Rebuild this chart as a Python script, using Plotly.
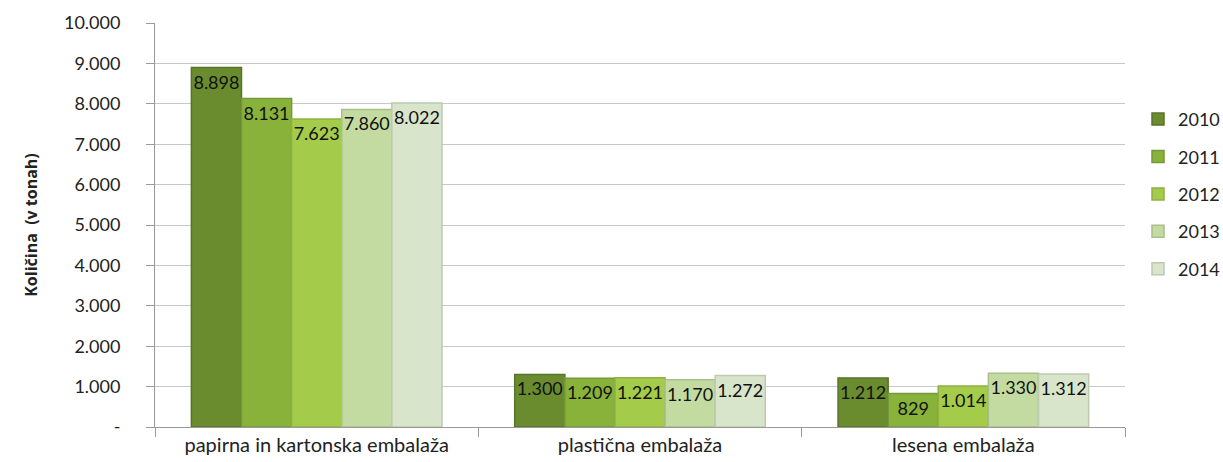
import plotly.graph_objects as go

categories = ["papirna in kartonska embalaža", "plastična embalaža", "lesena embalaža"]
years = ["2010", "2011", "2012", "2013", "2014"]
values = {
    "2010": [8898, 1300, 1212],
    "2011": [8131, 1209, 829],
    "2012": [7623, 1221, 1014],
    "2013": [7860, 1170, 1330],
    "2014": [8022, 1272, 1312],
}
tick_vals = [0, 1000, 2000, 3000, 4000, 5000, 6000, 7000, 8000, 9000, 10000]
tick_text = ["-", "1.000", "2.000", "3.000", "4.000", "5.000", "6.000", "7.000", "8.000", "9.000", "10.000"]

colors = {
    "2010": "#6a8c2f",
    "2011": "#88b23a",
    "2012": "#a5cb4a",
    "2013": "#c3dba0",
    "2014": "#d9e5cb",
}
edges = {
    "2010": "#56742a",
    "2011": "#73993a",
    "2012": "#8fb142",
    "2013": "#a9bf8c",
    "2014": "#bccab0",
}

font = "Lato, 'Noto Sans', sans-serif"

fig = go.Figure()
for yr in years:
    fig.add_trace(
        go.Bar(
            x=categories,
            y=values[yr],
            name=yr,
            legendgroup=yr,
            marker=dict(color=colors[yr], line=dict(color=edges[yr], width=1.5)),
            text=[f"{v:,}".replace(",", ".") for v in values[yr]],
            textposition="inside",
            insidetextanchor="end",
            constraintext="none",
            textangle=0,
            textfont=dict(size=18, color="#111111", family=font),
            cliponaxis=False,
        )
    )

fig.update_layout(
    width=1223,
    height=462,
    barmode="group",
    bargap=0.225,
    bargroupgap=0,
    plot_bgcolor="white",
    paper_bgcolor="white",
    margin=dict(l=155, r=98, t=23, b=35, autoexpand=False),
    font=dict(family=font, size=17, color="#222222"),
    legend=dict(
        # right of the plot area
        x=1.0134,
        xanchor="left",
        y=0.577,
        yanchor="middle",
        traceorder="grouped",
        tracegroupgap=11,
        font=dict(size=18),
        itemwidth=30,
    ),
    xaxis=dict(
        showline=True,
        linecolor="#999999",
        ticks="outside",
        tickson="boundaries",
        ticklen=9,
        tickcolor="#999999",
        tickfont=dict(size=20),
    ),
    yaxis=dict(
        range=[0, 10000],
        tickvals=tick_vals,
        ticktext=tick_text,
        showline=True,
        linecolor="#999999",
        ticks="outside",
        ticklen=8,
        tickcolor="#999999",
        gridcolor="#c8c8c8",
        zeroline=False,
        ticklabelstandoff=22,
        tickfont=dict(size=18),
        title=dict(
            text="<b>Količina  (v tonah)</b>",
            font=dict(size=16, family="'Open Sans', sans-serif"),
            standoff=22,
        ),
    ),
)

fig.write_html(
    "out.html",
    config={"displayModeBar": False},
    post_script="document.body.style.margin='0';",
)
